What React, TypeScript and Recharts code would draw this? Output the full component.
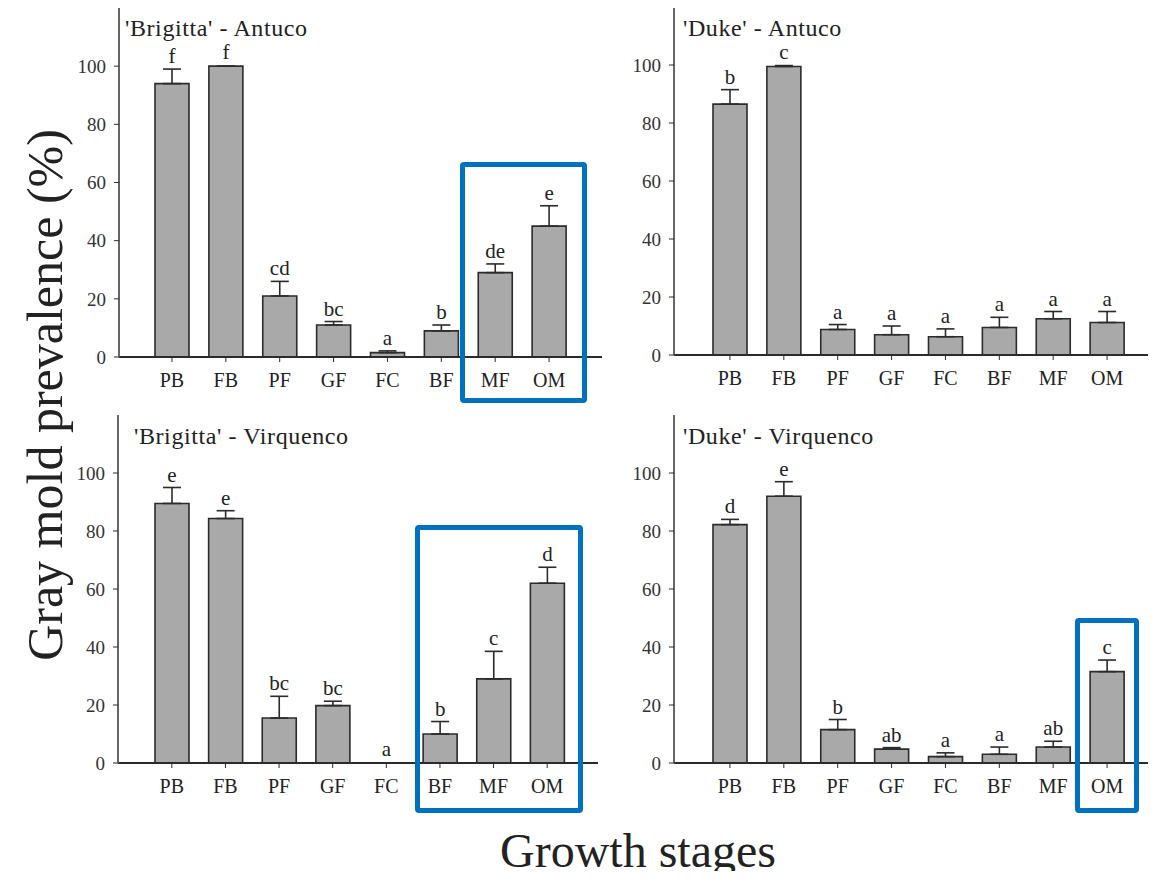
import { Bar, BarChart, ErrorBar, LabelList, XAxis, YAxis } from "recharts";

const stages = ["PB", "FB", "PF", "GF", "FC", "BF", "MF", "OM"];
const yTicks = [0, 20, 40, 60, 80, 100];

// 'Brigitta' - Antuco
const brigittaAntucoMean = [94, 100, 21, 11, 1.5, 9, 29, 45];
const brigittaAntucoErr = [5, 0, 5, 1.2, 0.6, 2, 3, 7];
const brigittaAntucoLetters = ["f", "f", "cd", "bc", "a", "b", "de", "e"];

// 'Duke' - Antuco
const dukeAntucoMean = [86.5, 99.5, 8.8, 7, 6.3, 9.5, 12.5, 11.2];
const dukeAntucoErr = [5, 0.3, 1.7, 3, 2.7, 3.5, 2.5, 3.8];
const dukeAntucoLetters = ["b", "c", "a", "a", "a", "a", "a", "a"];

// 'Brigitta' - Virquenco
const brigittaVirquencoMean = [89.5, 84.3, 15.5, 19.8, 0, 10, 29, 62];
const brigittaVirquencoErr = [5.5, 2.7, 7.5, 1.5, 0, 4.3, 9.5, 5.5];
const brigittaVirquencoLetters = ["e", "e", "bc", "bc", "a", "b", "c", "d"];

// 'Duke' - Virquenco
const dukeVirquencoMean = [82.2, 92, 11.5, 4.8, 2.2, 3, 5.5, 31.5];
const dukeVirquencoErr = [1.8, 5, 3.5, 0.5, 1.3, 2.5, 2, 4];
const dukeVirquencoLetters = ["d", "e", "b", "ab", "a", "a", "ab", "c"];

const SERIF = "'Liberation Serif', 'Times New Roman', serif";
const INK = "#2b2b2b";

function makeRows(mean: number[], err: number[], letters: string[]) {
  return stages.map((stage, i) => ({
    stage,
    mean: mean[i],
    cap: err[i],
    errRange: [0, err[i]],
    letter: letters[i],
  }));
}

type PanelProps = {
  x: number;
  y: number;
  w: number;
  h: number;
  padL: number;
  padR: number;
  title: string;
  titleX: number;
  titleY: number;
  rows: ReturnType<typeof makeRows>;
};

function Panel({ x, y, w, h, padL, padR, title, titleX, titleY, rows }: PanelProps) {
  const yAxisW = 60;
  return (
    <>
      <div style={{ position: "absolute", left: x - yAxisW, top: y - 2 }}>
        <BarChart
          width={yAxisW + w + 2}
          height={h + 2 + 44}
          data={rows}
          margin={{ top: 2, right: 2, bottom: 0, left: 0 }}
          barSize={34}
        >
          <XAxis
            dataKey="stage"
            height={44}
            padding={{ left: padL, right: padR }}
            axisLine={{ stroke: INK, strokeWidth: 1.8 }}
            tickLine={{ stroke: INK }}
            tickSize={5}
            tickMargin={11}
            tick={{ fill: "#222", fontSize: 20, fontFamily: SERIF }}
            interval={0}
          />
          <XAxis
            xAxisId="top"
            orientation="top"
            dataKey="stage"
            height={0}
            tick={false}
            tickLine={false}
            axisLine={{ stroke: "#555", strokeWidth: 1.8 }}
          />
          <YAxis
            width={yAxisW}
            domain={[0, 120]}
            ticks={yTicks}
            allowDataOverflow
            axisLine={{ stroke: "#555", strokeWidth: 1.8 }}
            tickLine={{ stroke: INK }}
            tickSize={5}
            tickMargin={8}
            tick={{ fill: "#333", fontSize: 19, fontFamily: SERIF }}
          />
          <YAxis
            yAxisId="right"
            orientation="right"
            width={0}
            domain={[0, 120]}
            tick={false}
            tickLine={false}
            axisLine={{ stroke: "#555", strokeWidth: 1.8 }}
          />
          <Bar
            dataKey="mean"
            stackId="s"
            fill="#a9a9a9"
            stroke={INK}
            strokeWidth={1.6}
            isAnimationActive={false}
          >
            <ErrorBar dataKey="errRange" width={9} stroke={INK} strokeWidth={1.6} direction="y" />
          </Bar>
          <Bar
            dataKey="cap"
            stackId="s"
            fill="none"
            stroke="none"
            minPointSize={1}
            isAnimationActive={false}
          >
            <LabelList
              dataKey="letter"
              position="top"
              offset={6}
              fill="#222"
              fontSize={21}
              fontFamily={SERIF}
            />
          </Bar>
        </BarChart>
      </div>
      <div
        style={{
          position: "absolute",
          left: titleX,
          top: titleY - 13,
          fontFamily: SERIF,
          fontSize: 24,
          letterSpacing: 0.6,
          lineHeight: "26px",
          color: "#222",
          whiteSpace: "nowrap",
        }}
      >
        {title}
      </div>
    </>
  );
}

function Highlight({ l, t, r, b }: { l: number; t: number; r: number; b: number }) {
  return (
    <div
      style={{
        position: "absolute",
        left: l,
        top: t,
        width: r - l,
        height: b - t,
        boxSizing: "border-box",
        border: "5px solid #0070c0",
        borderRadius: 4,
      }}
    />
  );
}

export default function App() {
  return (
    <div
      style={{
        position: "relative",
        width: 1156,
        height: 879,
        margin: -8,
        overflow: "hidden",
        background: "#fff",
      }}
    >
      <Panel
        x={119} y={8} w={483} h={349} padL={26} padR={26}
        title="'Brigitta' - Antuco" titleX={125} titleY={28}
        rows={makeRows(brigittaAntucoMean, brigittaAntucoErr, brigittaAntucoLetters)}
      />
      <Panel
        x={674} y={7} w={485} h={348} padL={29} padR={25}
        title="'Duke' - Antuco" titleX={683} titleY={28}
        rows={makeRows(dukeAntucoMean, dukeAntucoErr, dukeAntucoLetters)}
      />
      <Panel
        x={118} y={415} w={480} h={348} padL={27} padR={24}
        title="'Brigitta' - Virquenco" titleX={134} titleY={436}
        rows={makeRows(brigittaVirquencoMean, brigittaVirquencoErr, brigittaVirquencoLetters)}
      />
      <Panel
        x={674} y={415} w={485} h={348} padL={29} padR={25}
        title="'Duke' - Virquenco" titleX={683} titleY={436}
        rows={makeRows(dukeVirquencoMean, dukeVirquencoErr, dukeVirquencoLetters)}
      />

      <Highlight l={460} t={162} r={587} b={403} />
      <Highlight l={415} t={525} r={583} b={813} />
      <Highlight l={1075} t={618} r={1139} b={813} />

      <div
        style={{
          position: "absolute",
          left: 45,
          top: 395,
          transform: "translate(-50%, -50%) rotate(-90deg)",
          fontFamily: SERIF,
          fontSize: 50,
          lineHeight: "54px",
          color: "#222",
          whiteSpace: "nowrap",
        }}
      >
        Gray mold prevalence (%)
      </div>
      <div
        style={{
          position: "absolute",
          left: 638,
          top: 851,
          transform: "translate(-50%, -50%)",
          fontFamily: SERIF,
          fontSize: 48,
          lineHeight: "50px",
          color: "#222",
          whiteSpace: "nowrap",
        }}
      >
        Growth stages
      </div>
      <div
        style={{
          position: "absolute",
          left: -20,
          top: 240,
          fontFamily: "'Liberation Sans', Arial, sans-serif",
          fontWeight: 700,
          fontSize: 44,
          lineHeight: "54px",
          color: "#000",
        }}
      >
        n
      </div>
    </div>
  );
}
